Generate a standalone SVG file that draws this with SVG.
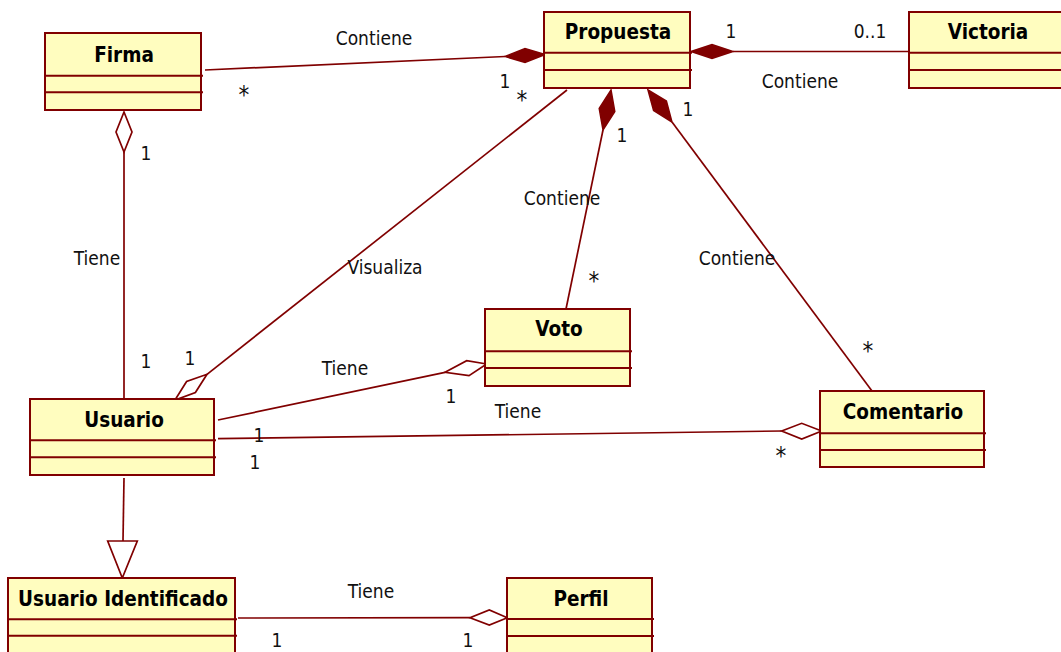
<svg xmlns="http://www.w3.org/2000/svg" width="1061" height="652" viewBox="0 0 1061 652">
  <style>
    .box { fill: #fffdbf; stroke: #800000; stroke-width: 2; }
    .div { stroke: #800000; stroke-width: 2; }
    .title { font-family: "DejaVu Sans Condensed", "DejaVu Sans", sans-serif; font-stretch: condensed; font-weight: bold; font-size: 20.5px; fill: #000; text-anchor: middle; }
    .lbl { font-family: "DejaVu Sans Condensed", "DejaVu Sans", sans-serif; font-stretch: condensed; font-size: 19px; fill: #111; text-anchor: middle; }
    .star { font-size: 24px; }
    .edge { stroke: #800000; stroke-width: 1.7; fill: none; }
    .comp { fill: #800000; stroke: #800000; stroke-width: 1.5; }
    .aggr { fill: #fff; stroke: #800000; stroke-width: 1.7; }
  </style>

  <!-- associations -->
  <g id="connectors">
    <!-- Firma - Propuesta (composition) -->
    <line class="edge" x1="205" y1="70" x2="505" y2="56.5"/>
    <polygon class="comp" points="545,54.5 525,48.5 505,56.5 525,62.5"/>
    <text class="lbl" x="374" y="45">Contiene</text>
    <text class="lbl star" x="244" y="103">*</text>
    <text class="lbl" x="505" y="88">1</text>
    <text class="lbl star" x="522" y="108">*</text>

    <!-- Propuesta - Victoria (composition) -->
    <line class="edge" x1="733" y1="51.5" x2="909" y2="51.5"/>
    <polygon class="comp" points="691,51.5 712,44.5 733,51.5 712,58.5"/>
    <text class="lbl" x="731" y="38">1</text>
    <text class="lbl" x="870" y="38">0..1</text>
    <text class="lbl" x="800" y="88">Contiene</text>

    <!-- Propuesta - Voto (composition) -->
    <line class="edge" x1="603" y1="130" x2="566" y2="309"/>
    <polygon class="comp" points="611,90 614.8,111.6 603,130 599.2,108.4"/>
    <text class="lbl" x="622" y="142">1</text>
    <text class="lbl" x="562" y="205">Contiene</text>
    <text class="lbl star" x="594" y="289">*</text>

    <!-- Propuesta - Comentario (composition) -->
    <line class="edge" x1="672" y1="122" x2="872" y2="391"/>
    <polygon class="comp" points="648,90 666.4,101.1 672,122 653.6,110.6"/>
    <text class="lbl" x="688" y="116">1</text>
    <text class="lbl" x="737" y="265">Contiene</text>
    <text class="lbl star" x="868" y="359">*</text>

    <!-- Propuesta - Usuario (Visualiza, aggregation) -->
    <line class="edge" x1="567" y1="90" x2="207" y2="374.3"/>
    <polygon class="aggr" points="175,400 186.6,381.5 207,374.3 195.4,392.5"/>
    <text class="lbl" x="385" y="274">Visualiza</text>
    <text class="lbl" x="190" y="365">1</text>

    <!-- Firma - Usuario (aggregation) -->
    <line class="edge" x1="124" y1="152" x2="124" y2="399"/>
    <polygon class="aggr" points="124,112 132,132 124,152 116,132"/>
    <text class="lbl" x="146" y="160">1</text>
    <text class="lbl" x="97" y="265">Tiene</text>
    <text class="lbl" x="146" y="368">1</text>

    <!-- Usuario - Voto (aggregation) -->
    <line class="edge" x1="218" y1="420" x2="445" y2="372.3"/>
    <polygon class="aggr" points="486.7,364 466.7,360.7 445,372.3 469,375.7"/>
    <text class="lbl" x="345" y="375">Tiene</text>
    <text class="lbl" x="451" y="403">1</text>

    <!-- Usuario - Comentario (aggregation) -->
    <line class="edge" x1="218" y1="438.7" x2="781.7" y2="431"/>
    <polygon class="aggr" points="821.7,431 801.7,423.3 781.7,431 801.7,439"/>
    <text class="lbl" x="518" y="418">Tiene</text>
    <text class="lbl" x="259" y="442">1</text>
    <text class="lbl" x="255" y="469">1</text>
    <text class="lbl star" x="781" y="464">*</text>

    <!-- Usuario Identificado specialises Usuario -->
    <line class="edge" x1="124" y1="478" x2="123" y2="541"/>
    <polygon class="aggr" points="107.7,541 137.3,541 122.3,578"/>

    <!-- Usuario Identificado - Perfil (aggregation) -->
    <line class="edge" x1="238" y1="618" x2="470" y2="617.7"/>
    <polygon class="aggr" points="507.3,617.7 489.3,610 470,617.7 489.3,625"/>
    <text class="lbl" x="371" y="598">Tiene</text>
    <text class="lbl" x="277" y="647">1</text>
    <text class="lbl" x="468" y="647">1</text>
  </g>

  <!-- classes -->
  <g id="firma">
    <rect class="box" x="45" y="33" width="156" height="77"/>
    <line class="div" x1="45" y1="75.7" x2="203" y2="75.7"/>
    <line class="div" x1="45" y1="92.3" x2="203" y2="92.3"/>
    <text class="title" x="124" y="62">Firma</text>
  </g>

  <g id="propuesta">
    <rect class="box" x="544" y="12" width="146" height="76"/>
    <line class="div" x1="544" y1="52.7" x2="692" y2="52.7"/>
    <line class="div" x1="544" y1="70" x2="692" y2="70"/>
    <text class="title" x="618" y="39">Propuesta</text>
  </g>

  <g id="victoria">
    <rect class="box" x="909" y="12" width="160" height="76"/>
    <line class="div" x1="909" y1="52.7" x2="1069" y2="52.7"/>
    <line class="div" x1="909" y1="70" x2="1069" y2="70"/>
    <text class="title" x="988" y="39">Victoria</text>
  </g>

  <g id="usuario">
    <rect class="box" x="30" y="399" width="184" height="76"/>
    <line class="div" x1="30" y1="440.3" x2="216" y2="440.3"/>
    <line class="div" x1="30" y1="457.3" x2="216" y2="457.3"/>
    <text class="title" x="124" y="427">Usuario</text>
  </g>

  <g id="voto">
    <rect class="box" x="485" y="309" width="145" height="77"/>
    <line class="div" x1="485" y1="351.3" x2="632" y2="351.3"/>
    <line class="div" x1="485" y1="368" x2="632" y2="368"/>
    <text class="title" x="559" y="336">Voto</text>
  </g>

  <g id="comentario">
    <rect class="box" x="820" y="391" width="164" height="76"/>
    <line class="div" x1="820" y1="433.3" x2="986" y2="433.3"/>
    <line class="div" x1="820" y1="450" x2="986" y2="450"/>
    <text class="title" x="903" y="419">Comentario</text>
  </g>

  <g id="usuario-identificado">
    <rect class="box" x="8" y="578" width="227" height="100"/>
    <line class="div" x1="8" y1="619.3" x2="237" y2="619.3"/>
    <line class="div" x1="8" y1="635.7" x2="237" y2="635.7"/>
    <text class="title" x="123" y="606">Usuario Identificado</text>
  </g>

  <g id="perfil">
    <rect class="box" x="507" y="578" width="145" height="100"/>
    <line class="div" x1="507" y1="619" x2="654" y2="619"/>
    <line class="div" x1="507" y1="636" x2="654" y2="636"/>
    <text class="title" x="581" y="606">Perfil</text>
  </g>
</svg>
